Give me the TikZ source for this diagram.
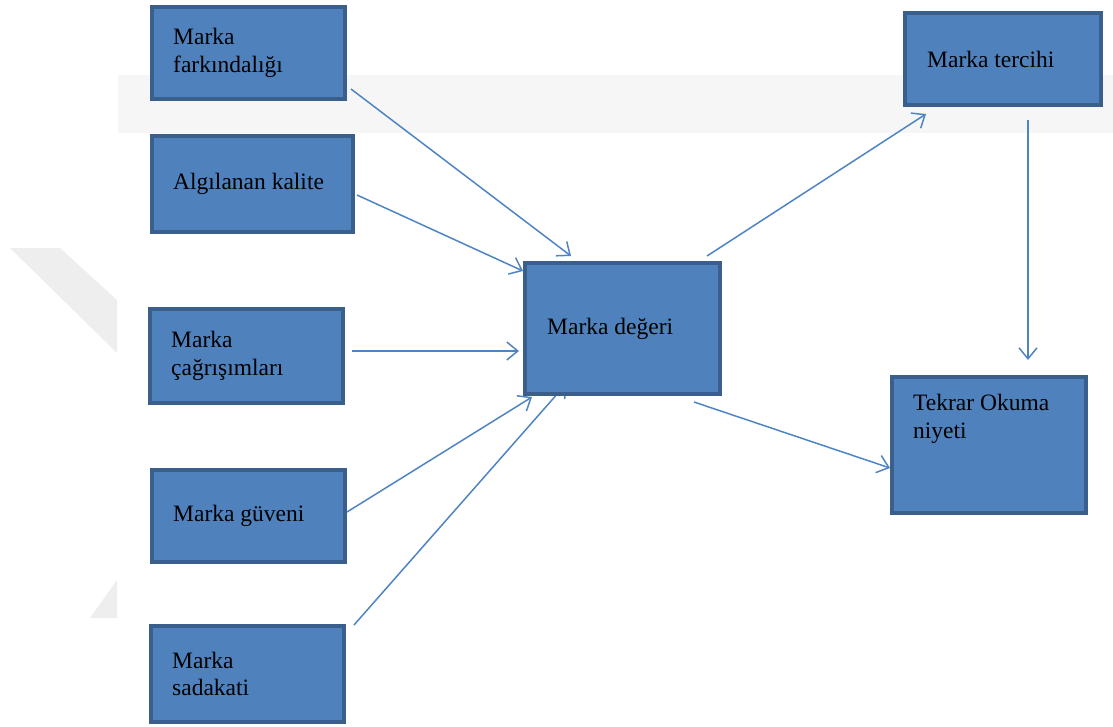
\documentclass[tikz,border=0pt]{standalone}
\usepackage{fontspec}
\setmainfont{Liberation Serif}
\usetikzlibrary{arrows.meta}
\pgfdeclarelayer{background}
\pgfsetlayers{background,main}
\definecolor{boxfill}{HTML}{4F81BD}
\definecolor{boxline}{HTML}{3A5F8D}
\definecolor{linkcol}{HTML}{4F84C4}
\definecolor{wband}{HTML}{F6F6F6}
\definecolor{wdiag}{HTML}{EEEEEE}

\begin{document}
\begin{tikzpicture}[x=1pt,y=-1pt,
  box/.style={rectangle, draw=boxline, fill=boxfill, line width=4pt, inner sep=0pt},
  txt/.style={font=\fontsize{23.5}{27.5}\selectfont, align=left, inner sep=0pt, text=black},
  link/.style={draw=linkcol, line width=1.5pt,
    -{Straight Barb[length=11pt,width=18pt,line width=1.5pt]}},
]
\useasboundingbox (0,0) rectangle (1113,726);

% faint background shapes
\fill[wband] (118,75) rectangle (1113,133);
\fill[wdiag] (10,248) -- (60,248) -- (117,300) -- (117,353) -- cycle;
\fill[wdiag] (117,580) -- (90,618) -- (117,618) -- cycle;

% left column
\node[box, minimum width=193pt, minimum height=92pt,
  label={[txt,anchor=west,xshift=23pt]west:Marka\\farkındalığı}] (fark) at (248.5,53) {};
\node[box, minimum width=201pt, minimum height=96pt,
  label={[txt,anchor=west,xshift=23pt]west:Algılanan kalite}] (kalite) at (252.5,184) {};
\node[box, minimum width=193pt, minimum height=94pt,
  label={[txt,anchor=west,xshift=23pt]west:Marka\\çağrışımları}] (cagrisim) at (246.5,356) {};
\node[box, minimum width=193pt, minimum height=92pt,
  label={[txt,anchor=west,xshift=23pt]west:Marka güveni}] (guven) at (248.5,516) {};
\node[box, minimum width=193pt, minimum height=96pt,
  label={[txt,anchor=west,xshift=23pt]west:Marka\\sadakati}] (sadakat) at (247.5,674) {};

% centre
\node[box, minimum width=195pt, minimum height=131pt,
  label={[txt,anchor=west,xshift=24pt]west:Marka değeri}] (deger) at (622.5,328.5) {};

% right column
\node[box, minimum width=196pt, minimum height=92pt,
  label={[txt,anchor=west,xshift=24pt]west:Marka tercihi}] (tercih) at (1003,59) {};
\node[box, minimum width=194pt, minimum height=136pt,
  label={[txt,anchor=north west,xshift=23pt,yshift=-19pt]north west:Tekrar Okuma\\niyeti}] (tekrar) at (989,445) {};

% connectors
\draw[link] ([shift={(4,36)}]fark.east) -- ([shift={(48,-5)}]deger.north west);
\draw[link] ([shift={(2,11)}]kalite.east) -- ([shift={(0,10)}]deger.north west);
\draw[link] ([shift={(7,-5)}]cagrisim.east) -- ([shift={(-4,22.5)}]deger.west);
\draw[link] ([shift={(0,-4)}]guven.east) -- ([shift={(9,1)}]deger.south west);
\begin{pgfonlayer}{background}
\draw[link] ([shift={(8,1)}]sadakat.north east) -- ([shift={(43,-12)}]deger.south west);
\end{pgfonlayer}
\draw[link] ([shift={(-15,-5)}]deger.north east) -- ([shift={(23,7)}]tercih.south west);
\draw[link] ([shift={(25,13)}]tercih.south) -- ([shift={(39,-15)}]tekrar.north);
\draw[link] ([shift={(-28,6)}]deger.south east) -- ([shift={(0,23)}]tekrar.west);
\end{tikzpicture}
\end{document}
